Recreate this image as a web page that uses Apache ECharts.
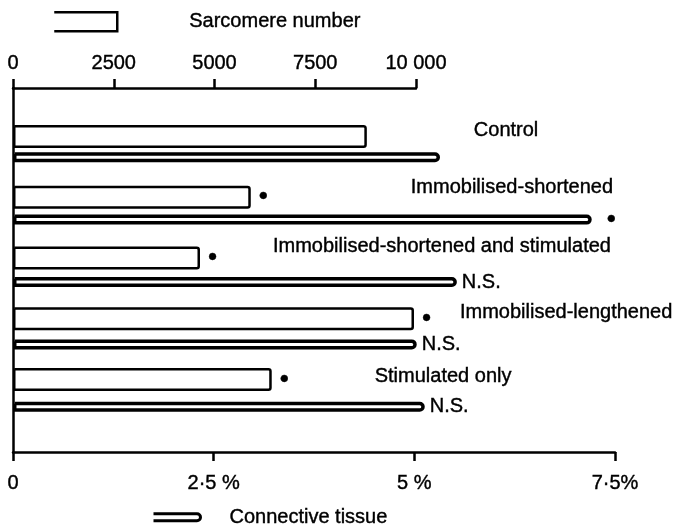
<!DOCTYPE html>
<html>
<head>
<meta charset="utf-8">
<title>Sarcomere number and connective tissue</title>
<script src="https://cdn.jsdelivr.net/npm/echarts@6.0.0/dist/echarts.min.js"></script>
<style>
  html, body { margin: 0; padding: 0; background: #fff; }
  #chart { width: 676px; height: 528px; }
</style>
</head>
<body>
<div id="chart"></div>
<script>
// groups, top to bottom
var groups = ['Control', 'Immobilised-shortened', 'Immobilised-shortened and stimulated', 'Immobilised-lengthened', 'Stimulated only'];
// sarcomere number (top axis)
var sarcomereNumber = [8780, 5900, 4640, 9950, 6420];
// connective tissue, % (bottom axis)
var connectiveTissue = [5.32, 7.21, 5.53, 5.03, 5.13];
// significance marks next to each bar
var sarcomereSig = ['', '•', '•', '•', '•'];
var connectiveSig = ['', '•', 'N.S.', 'N.S.', 'N.S.'];
// tick labels
var topTickLabels = { 0: '0', 2500: '2500', 5000: '5000', 7500: '7500', 10000: '10 000' };
var bottomTickLabels = { 0: '0', 2.5: '2·5 %', 5: '5 %', 7.5: '7·5%' };

var chart = {};
var FONT = "'Liberation Sans', Arial, Helvetica, sans-serif";

window.onload = function () {
	chartInit();
};

function sigText(s) {
	return s === '•' ? '{d|•}' : s;
}

function chartInit() {
	chart = echarts.init(document.getElementById('chart'), null, { renderer: 'canvas' });

	// where each group name sits, relative to the end of its sarcomere bar
	var nameOffset = [[107, -6], [160, -10], [73, -12], [46, -6], [103, -3]];

	// scanned print looks a little heavier than plain Liberation Sans
	var txt = { color: '#000', fontSize: 20, fontFamily: FONT, lineHeight: 20, textBorderColor: '#000', textBorderWidth: 0.4 };
	var dotRich = { d: { fontSize: 26, fontFamily: FONT, color: '#000', lineHeight: 20 } };
	var black = { color: '#000', width: 2.5 };

	var option = {
		backgroundColor: '#fff',
		animation: false,
		textStyle: { fontFamily: FONT, color: '#000' },
		legend: [
			{
				data: ['Sarcomere number'],
				left: 53, top: 11, padding: 0,
				selectedMode: false,
				itemWidth: 63, itemHeight: 19,
				icon: 'path://M0,0H63V19H0',
				itemStyle: { color: '#fff', borderColor: '#000', borderWidth: 2.5 },
				textStyle: Object.assign({ padding: [0, 0, 0, 67] }, txt)
			},
			{
				data: ['Connective tissue'],
				left: 152, top: 507, padding: 0,
				selectedMode: false,
				itemWidth: 47, itemHeight: 7,
				icon: 'path://M0,0H43.5A3.5,3.5 0 0 1 43.5,7H0',
				itemStyle: { color: '#fff', borderColor: '#000', borderWidth: 3 },
				textStyle: Object.assign({ padding: [0, 0, 0, 24] }, txt)
			}
		],
		grid: [
			{ left: 13, right: 260, top: 106, height: 304 },   // sarcomere bars
			{ left: 13, right: 61, top: 126, height: 312 },    // connective tissue bars
			{ left: 13, right: 61, top: 88, height: 364 }      // left axis line only
		],
		xAxis: [
			{
				gridIndex: 0, type: 'value', position: 'top', offset: 18,
				min: 0, max: 10000, interval: 2500,
				axisLine: { show: true, onZero: false, lineStyle: black },
				axisTick: { show: true, length: 9, lineStyle: black },
				axisLabel: Object.assign({ margin: 15, formatter: function (v) { return topTickLabels[v]; } }, txt),
				splitLine: { show: false }
			},
			{
				gridIndex: 1, type: 'value', position: 'bottom', offset: 14,
				min: 0, max: 7.5, interval: 2.5,
				axisLine: { show: true, onZero: false, lineStyle: black },
				axisTick: { show: true, length: 9, lineStyle: black },
				axisLabel: Object.assign({ margin: 21, formatter: function (v) { return bottomTickLabels[v]; } }, txt),
				splitLine: { show: false }
			},
			{ gridIndex: 2, type: 'value', min: 0, max: 1, show: false }
		],
		yAxis: [
			{ gridIndex: 0, type: 'category', data: groups, inverse: true, show: false },
			{ gridIndex: 1, type: 'category', data: groups, inverse: true, show: false },
			{
				gridIndex: 2, type: 'value', min: 0, max: 1,
				axisLine: { show: true, onZero: false, lineStyle: black },
				axisTick: { show: false }, axisLabel: { show: false }, splitLine: { show: false }
			}
		],
		series: [
			{
				name: 'Sarcomere number',
				type: 'bar',
				xAxisIndex: 0, yAxisIndex: 0,
				barWidth: 23, barGap: '-100%',
				data: sarcomereNumber,
				itemStyle: { color: '#fff', borderColor: '#000', borderWidth: 2.5, borderRadius: [0, 2, 2, 0] },
				label: Object.assign({
					show: true, position: 'right', distance: 8, rich: dotRich,
					formatter: function (p) { return sigText(sarcomereSig[p.dataIndex]); }
				}, txt)
			},
			{
				// group names, carried on an invisible copy of the sarcomere bars
				name: 'names',
				type: 'bar',
				xAxisIndex: 0, yAxisIndex: 0,
				barWidth: 23, barGap: '-100%',
				silent: true,
				data: sarcomereNumber.map(function (v, i) {
					return { value: v, label: { offset: nameOffset[i] } };
				}),
				itemStyle: { color: 'rgba(0,0,0,0)', borderWidth: 0 },
				label: Object.assign({
					show: true, position: 'right', distance: 0,
					formatter: function (p) { return groups[p.dataIndex]; }
				}, txt)
			},
			{
				name: 'Connective tissue',
				type: 'bar',
				xAxisIndex: 1, yAxisIndex: 1,
				barWidth: 10,
				data: connectiveTissue.map(function (v, i) {
					return { value: v, label: { distance: connectiveSig[i] === '•' ? 15 : 5 } };
				}),
				itemStyle: { color: '#fff', borderColor: '#000', borderWidth: 3.5, borderRadius: [0, 5, 5, 0] },
				label: Object.assign({
					show: true, position: 'right', rich: dotRich,
					formatter: function (p) { return sigText(connectiveSig[p.dataIndex]); }
				}, txt)
			}
		]
	};
	chart.setOption(option, true);
}

//窗口大小发生变化
window.addEventListener('resize', function () {
	chart.resize && chart.resize();
});
</script>
</body>
</html>
